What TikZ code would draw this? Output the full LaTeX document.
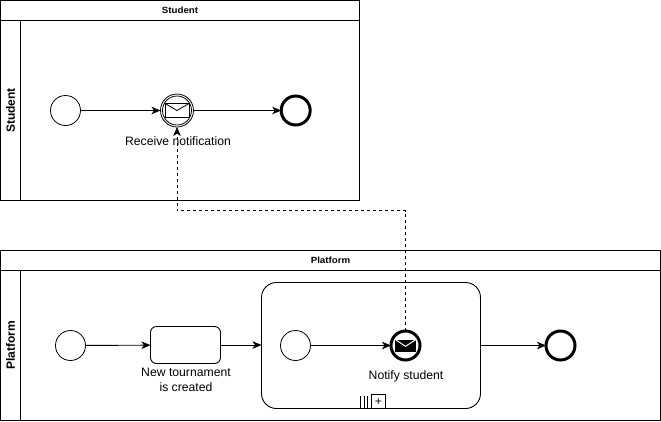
\documentclass[tikz,border=0pt]{standalone}
\usepackage{fontspec}
\setmainfont{Liberation Sans}
\usetikzlibrary{arrows.meta}
\tikzset{
  >={Stealth[length=9pt,width=7.5pt,inset=2.5pt]},
  box/.style={draw,line width=1pt,minimum width=0pt,minimum height=0pt,inner sep=0pt,outer sep=0pt},
  evt/.style={circle,draw,line width=.8pt,fill=white,inner sep=0pt,outer sep=0pt,minimum size=30pt},
  endevt/.style={evt,line width=3pt,minimum size=29pt},
  flow/.style={draw,line width=.9pt,->},
  msgflow/.style={draw,line width=.8pt,->,dashed,dash pattern=on 3pt off 3pt},
  lbl/.style={font=\fontsize{12.2}{15}\selectfont,align=center,inner sep=0pt},
  hdr/.style={font=\fontsize{9}{10}\selectfont\bfseries,inner sep=0pt,xscale=1.08},
  vhdr/.style={font=\fontsize{12}{14}\selectfont\bfseries,rotate=90,inner sep=0pt},
}
\begin{document}
\begin{tikzpicture}[x=1pt,y=-1pt]
\useasboundingbox (0,0) rectangle (661,421);
\fill[white] (0,0) rectangle (661,421);
% pool Student
\node[box,minimum width=359pt,minimum height=200pt,anchor=north west] (poolA) at (0.5,0.5) {};
\node[box,minimum width=359pt,minimum height=20pt,anchor=north west] (headA) at (0.5,0.5) {};
\node[box,minimum width=20pt,minimum height=180pt,anchor=north west] (laneA) at (0.5,20.5) {};
\node[hdr] (headAt) at (180,10.5) {Student};
\node[vhdr] (laneAt) at (10.5,110.5) {Student};
% pool Platform
\node[box,minimum width=660pt,minimum height=170pt,anchor=north west] (poolB) at (0.5,250.5) {};
\node[box,minimum width=660pt,minimum height=20pt,anchor=north west] (headB) at (0.5,250.5) {};
\node[box,minimum width=20pt,minimum height=150pt,anchor=north west] (laneB) at (0.5,270.5) {};
\node[hdr] (headBt) at (330.5,260.5) {Platform};
\node[vhdr] (laneBt) at (10.5,345.5) {Platform};
% student events
\node[evt] (s1) at (65.5,110.5) {};
\node[evt,minimum size=33pt] (s2) at (177,110.5) {};
\node[circle,draw,line width=.8pt,minimum size=29pt,inner sep=0pt] (s2i) at (177,110.5) {};
\node[endevt] (s3) at (295.7,110.5) {};
% envelope outline
\node[box,line width=.8pt,minimum width=24pt,minimum height=14pt,anchor=north west] (envA) at (165,103.5) {};
\draw[line width=.8pt] (envA.north west) -- (177,110.5) -- (envA.north east);
% platform
\node[evt] (p1) at (70.5,345.5) {};
\node[box,rounded corners=6pt,minimum width=70pt,minimum height=37pt,anchor=north west,line width=.9pt] (task) at (150.5,326.5) {};
\node[box,rounded corners=15pt,minimum width=219pt,minimum height=126pt,anchor=north west,line width=.9pt] (sub) at (261.5,282.5) {};
\node[evt] (p2) at (295.5,345.5) {};
\node[endevt] (p3) at (405.5,345.5) {};
\node[endevt] (p4) at (560.5,345.5) {};
\node[fill=black,minimum width=21pt,minimum height=12pt,inner sep=0pt,anchor=north west] (envB) at (395,339.3) {};
\draw[white,line width=1pt] (envB.north west) -- (405.5,346.3) -- (envB.north east);
% marker
\node[box,line width=.8pt,minimum width=14pt,minimum height=13.5pt,anchor=north west,font=\fontsize{12}{12}\selectfont] (plus) at (371.3,394.8) {+};
\coordinate (m1t) at (360.8,396); \coordinate (m1b) at (360.8,408);
\coordinate (m2t) at (364.2,396); \coordinate (m2b) at (364.2,408);
\coordinate (m3t) at (367.6,396); \coordinate (m3b) at (367.6,408);
\draw[line width=.9pt] (m1t)--(m1b) (m2t)--(m2b) (m3t)--(m3b);
% flows
\draw[flow] (s1) -- (s2);
\draw[flow] (s2) -- (s3);
\draw[flow] (p1) -- (task);
\draw[flow] (task) -- (sub.west |- task.east);
\draw[flow] (p2) -- (p3);
\draw[flow] (sub.east |- p4) -- (p4);
\coordinate (mA) at (405.5,210.5);
\coordinate (mB) at (177,210.5);
\draw[msgflow] (p3.north) -- (mA) -- (mB) -- (s2.south);
% labels
\node[lbl] (t1) at (178,141) {Receive notification};
\node[lbl] (t2) at (186,379.5) {New tournament\\is created};
\node[lbl] (t3) at (406,376) {Notify student};
\end{tikzpicture}
\end{document}
